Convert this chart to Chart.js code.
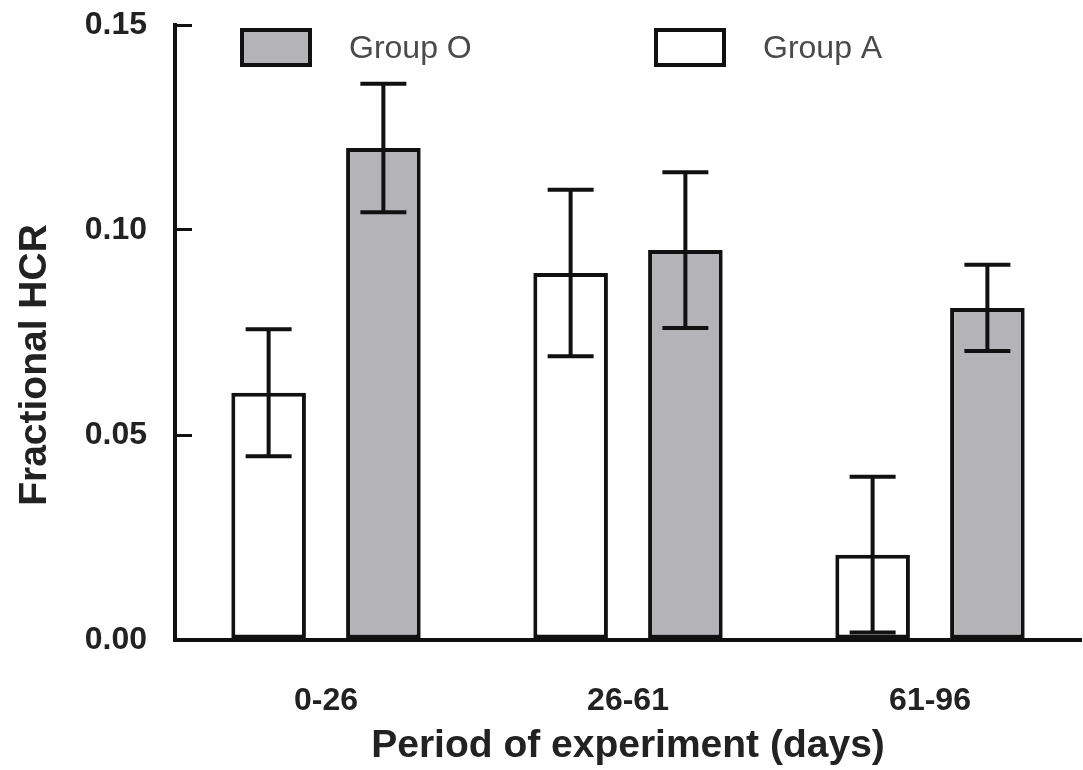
<!DOCTYPE html>
<html>
<head>
<meta charset="utf-8">
<script src="https://cdn.jsdelivr.net/npm/chart.js@4/dist/chart.umd.min.js"></script>
<style>
    html, body { margin: 0; padding: 0; background: #fff; }
    #wrap { width: 1083px; height: 770px; position: relative; }
</style>
</head>
<body>
<div id="wrap"><canvas id="chart"></canvas></div>
<script>
const periods = ['0-26', '26-61', '61-96'];
const groupA = [0.0603, 0.0895, 0.0208];
const groupAErr = [0.0155, 0.0203, 0.0190];
const groupO = [0.1200, 0.0951, 0.0810];
const groupOErr = [0.0157, 0.0190, 0.0105];
const yTicks = [0, 0.05, 0.10, 0.15];

const FONT = "'Liberation Sans', Arial, sans-serif";
const GREY = '#b4b4b8';

// error bars, drawn from each bar element + the y scale
const errorBars = {
    id: 'errorBars',
    afterDatasetsDraw(chart) {
        const { ctx } = chart;
        const y = chart.scales.y;
        chart.data.datasets.forEach((ds, i) => {
            const meta = chart.getDatasetMeta(i);
            meta.data.forEach((bar, j) => {
                const v = ds.data[j], e = ds.err[j];
                const top = y.getPixelForValue(v + e);
                const bot = y.getPixelForValue(v - e);
                ctx.save();
                ctx.strokeStyle = '#111';
                ctx.lineWidth = 4;
                ctx.beginPath();
                ctx.moveTo(bar.x, top);
                ctx.lineTo(bar.x, bot);
                ctx.moveTo(bar.x - 23, top);
                ctx.lineTo(bar.x + 23, top);
                ctx.moveTo(bar.x - 23, bot);
                ctx.lineTo(bar.x + 23, bot);
                ctx.stroke();
                ctx.restore();
            });
        });
    }
};

// legend sits inside the plot, like the original figure
const innerLegend = {
    id: 'innerLegend',
    afterDraw(chart) {
        const { ctx, chartArea } = chart;
        const items = [chart.data.datasets[1], chart.data.datasets[0]];
        const starts = [chartArea.left + 67, chartArea.left + 481];
        ctx.save();
        items.forEach((ds, k) => {
            const x = starts[k], y = chartArea.top + 5;
            ctx.fillStyle = ds.backgroundColor;
            ctx.fillRect(x, y, 68, 35);
            ctx.strokeStyle = '#111';
            ctx.lineWidth = 4;
            ctx.strokeRect(x, y, 68, 35);
            ctx.fillStyle = '#4a4a4a';
            ctx.font = '32px ' + FONT;
            ctx.textBaseline = 'middle';
            ctx.fillText(ds.label, x + 107, y + 19);
        });
        ctx.restore();
    }
};

new Chart(document.getElementById('chart'), {
    type: 'bar',
    data: {
        labels: periods,
        datasets: [
            {
                label: 'Group A',
                data: groupA,
                err: groupAErr,
                backgroundColor: '#ffffff',
                borderColor: '#111',
                borderWidth: 4,
                borderSkipped: false,
                categoryPercentage: 0.76,
                barPercentage: 0.65,
            },
            {
                label: 'Group O',
                data: groupO,
                err: groupOErr,
                backgroundColor: GREY,
                borderColor: '#111',
                borderWidth: 4,
                borderSkipped: false,
                categoryPercentage: 0.76,
                barPercentage: 0.65,
            }
        ]
    },
    options: {
        responsive: true,
        maintainAspectRatio: false,
        animation: false,
        layout: { padding: { top: 25, right: 2, left: 0, bottom: 0 } },
        plugins: {
            legend: { display: false },
            tooltip: { enabled: false }
        },
        scales: {
            x: {
                grid: { display: false },
                border: { display: true, color: '#111', width: 4 },
                ticks: {
                    color: '#222',
                    padding: 34,
                    font: { family: FONT, size: 32, weight: 'bold' }
                },
                title: {
                    display: true,
                    text: 'Period of experiment (days)',
                    color: '#222',
                    font: { family: FONT, size: 39, weight: 'bold' },
                    padding: { top: 0, bottom: 0 }
                },
                afterFit: s => { s.height = 130; }
            },
            y: {
                min: 0,
                max: 0.15,
                afterBuildTicks: s => { s.ticks = yTicks.map(v => ({ value: v })); },
                grid: {
                    drawOnChartArea: false,
                    drawTicks: true,
                    tickLength: -17,
                    color: '#111',
                    lineWidth: 3
                },
                border: { display: true, color: '#111', width: 4 },
                ticks: {
                    color: '#222',
                    padding: 45,
                    font: { family: FONT, size: 32, weight: 'bold' },
                    callback: v => v.toFixed(2)
                },
                title: {
                    display: true,
                    text: 'Fractional HCR      ',
                    color: '#222',
                    font: { family: FONT, size: 39, weight: 'bold' },
                    padding: { top: 12, bottom: 0 }
                },
                afterFit: s => {
                    s.width = 175;
                    s.paddingTop = 0;
                    s.paddingBottom = 0;
                }
            }
        }
    },
    plugins: [errorBars, innerLegend]
});
</script>
</body>
</html>
